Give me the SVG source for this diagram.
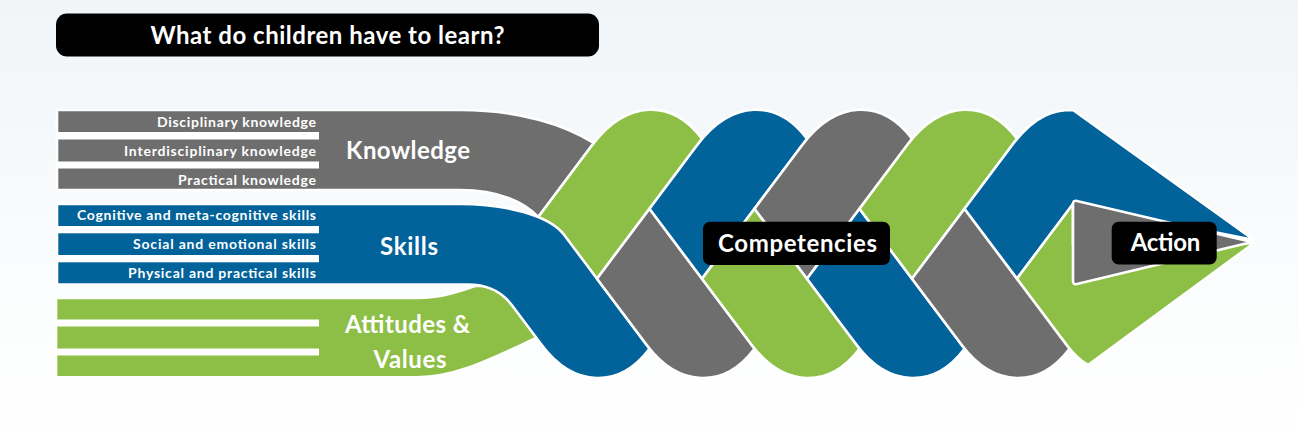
<svg xmlns="http://www.w3.org/2000/svg" width="1298" height="441" viewBox="0 0 1298 441">
  <defs>
    <linearGradient id="bg" x1="0" y1="0" x2="0" y2="1">
      <stop offset="0" stop-color="#f1f5f8"/>
      <stop offset="0.6" stop-color="#fafcfd"/>
      <stop offset="1" stop-color="#ffffff"/>
    </linearGradient>
    <style>
      .g { fill: #6e6e6e; }
      .b { fill: #02629a; }
      .n { fill: #8dbf47; }
      .strand { stroke: #ffffff; stroke-width: 2.6; stroke-linejoin: round; }
      .gap { fill: #ffffff; }
      .box { fill: #000000; }
      .t { font-family: Lato, "Liberation Sans", sans-serif; fill: #ffffff; }
      .small { font-size: 14px; font-weight: 700; text-anchor: end; }
      .big { font-size: 24px; font-weight: 700; }
      .title { font-size: 24px; font-weight: 700; text-anchor: middle; }
    </style>
  </defs>

  <rect x="0" y="0" width="1298" height="441" fill="url(#bg)"/>

  <g id="title">
    <rect class="box" x="56" y="13.5" width="543" height="43" rx="11"/>
    <text class="t title" x="327.5" y="43.5" textLength="354">What do children have to learn?</text>
  </g>

  <g id="braid">
    <g id="knowledge">
      <path class="g strand" d="M57,110 H460 C520,110 565,125 593.75,143 L538.25,217 C525,203 500,190 460,190 H57 Z"/>
      <rect class="gap" x="57" y="132" width="262" height="7.5"/>
      <rect class="gap" x="57" y="161.5" width="262" height="7"/>
    </g>
    <g id="attitudes">
      <path class="n strand" d="M56,298 H417 C440,298 458,292 475,286 L520,286 L556,330 L545,334 C500,354 460,377.3 417,377.3 H56 Z"/>
      <rect class="gap" x="56" y="319.5" width="263" height="7"/>
      <rect class="gap" x="56" y="348.5" width="263" height="7"/>
    </g>
    <path id="green-arch-1" class="n strand" d="M521,240 L592.25,145 C626.8,99 672.2,99 702,138.7 L581,300 Z"/>
    <g id="skills">
      <path class="b strand" d="M57,204 H460 C505,204 549.25,215 564.25,235 L649.5,348.7 C619.7,388.4 574.3,388.4 541.75,345 L511.75,305 C502.75,293 488,284.5 468,284.5 H57 Z"/>
      <rect class="gap" x="57" y="226" width="262" height="7.3"/>
      <rect class="gap" x="57" y="255" width="262" height="7.3"/>
    </g>
    <path id="gray-cap-1" class="g strand" d="M649.5,208.7 L597,278.7 L646.75,345 C679.3,388.4 724.7,388.4 754.5,348.7 Z"/>
    <path id="blue-arch-1" class="b strand" d="M649.5,208.7 L702,278.7 L807,138.7 C777.2,99 731.8,99 697.25,145 Z"/>
    <path id="green-cap-1" class="n strand" d="M754.5,208.7 L702,278.7 L751.75,345 C784.3,388.4 829.7,388.4 859.5,348.7 Z"/>
    <path id="gray-arch-1" class="g strand" d="M754.5,208.7 L807,278.7 L912,138.7 C882.2,99 836.8,99 802.25,145 Z"/>
    <path id="blue-cap-1" class="b strand" d="M859.5,208.7 L807,278.7 L856.75,345 C889.3,388.4 934.7,388.4 964.5,348.7 Z"/>
    <path id="green-arch-2" class="n strand" d="M859.5,208.7 L912,278.7 L1017,138.7 C987.2,99 941.8,99 907.25,145 Z"/>
    <path id="gray-cap-2" class="g strand" d="M964.5,208.7 L912,278.7 L961.75,345 C994.3,388.4 1039.7,388.4 1069.5,348.7 Z"/>
    <path id="blue-arrow" class="b strand" d="M964.5,208.7 L1017,278.7 L1073,204 L1254,240 L1073,110 C1056,110 1036.25,113 1012.25,145 Z"/>
    <path id="green-arrow" class="n strand" d="M1073,204 L1017,278.7 L1066.75,345 C1073.3,353.7 1080.3,360.6 1088,365 L1254,243 L1073,245 Z"/>
    <path id="gray-arrow" class="g strand" d="M1073,204 Q1073,200 1076.9,200.9 L1252,242 L1076.9,284.1 Q1073,285 1073,281 Z" stroke-width="3"/>
  </g>

  <g id="labels">
    <text class="t small" x="316" y="127" textLength="159">Disciplinary knowledge</text>
    <text class="t small" x="316" y="156" textLength="192">Interdisciplinary knowledge</text>
    <text class="t small" x="316" y="184.5" textLength="138">Practical knowledge</text>
    <text class="t small" x="316" y="220" textLength="239">Cognitive and meta-cognitive skills</text>
    <text class="t small" x="316" y="249" textLength="183">Social and emotional skills</text>
    <text class="t small" x="316" y="277.5" textLength="188">Physical and practical skills</text>
    <text class="t big" x="346" y="158.5" textLength="124">Knowledge</text>
    <text class="t big" x="380" y="254.5" textLength="58">Skills</text>
    <text class="t big" x="345" y="333" textLength="125">Attitudes &amp;</text>
    <text class="t big" x="373.5" y="368" textLength="73">Values</text>
  </g>

  <g id="competencies">
    <rect class="box" x="703" y="221.7" width="187" height="43.3" rx="7"/>
    <text class="t big" x="718" y="251.7" textLength="159">Competencies</text>
  </g>

  <g id="action">
    <rect class="box" x="1111.7" y="221.7" width="105" height="42.8" rx="7"/>
    <text class="t big" x="1130.7" y="250.5" textLength="69.5">Action</text>
  </g>
</svg>
